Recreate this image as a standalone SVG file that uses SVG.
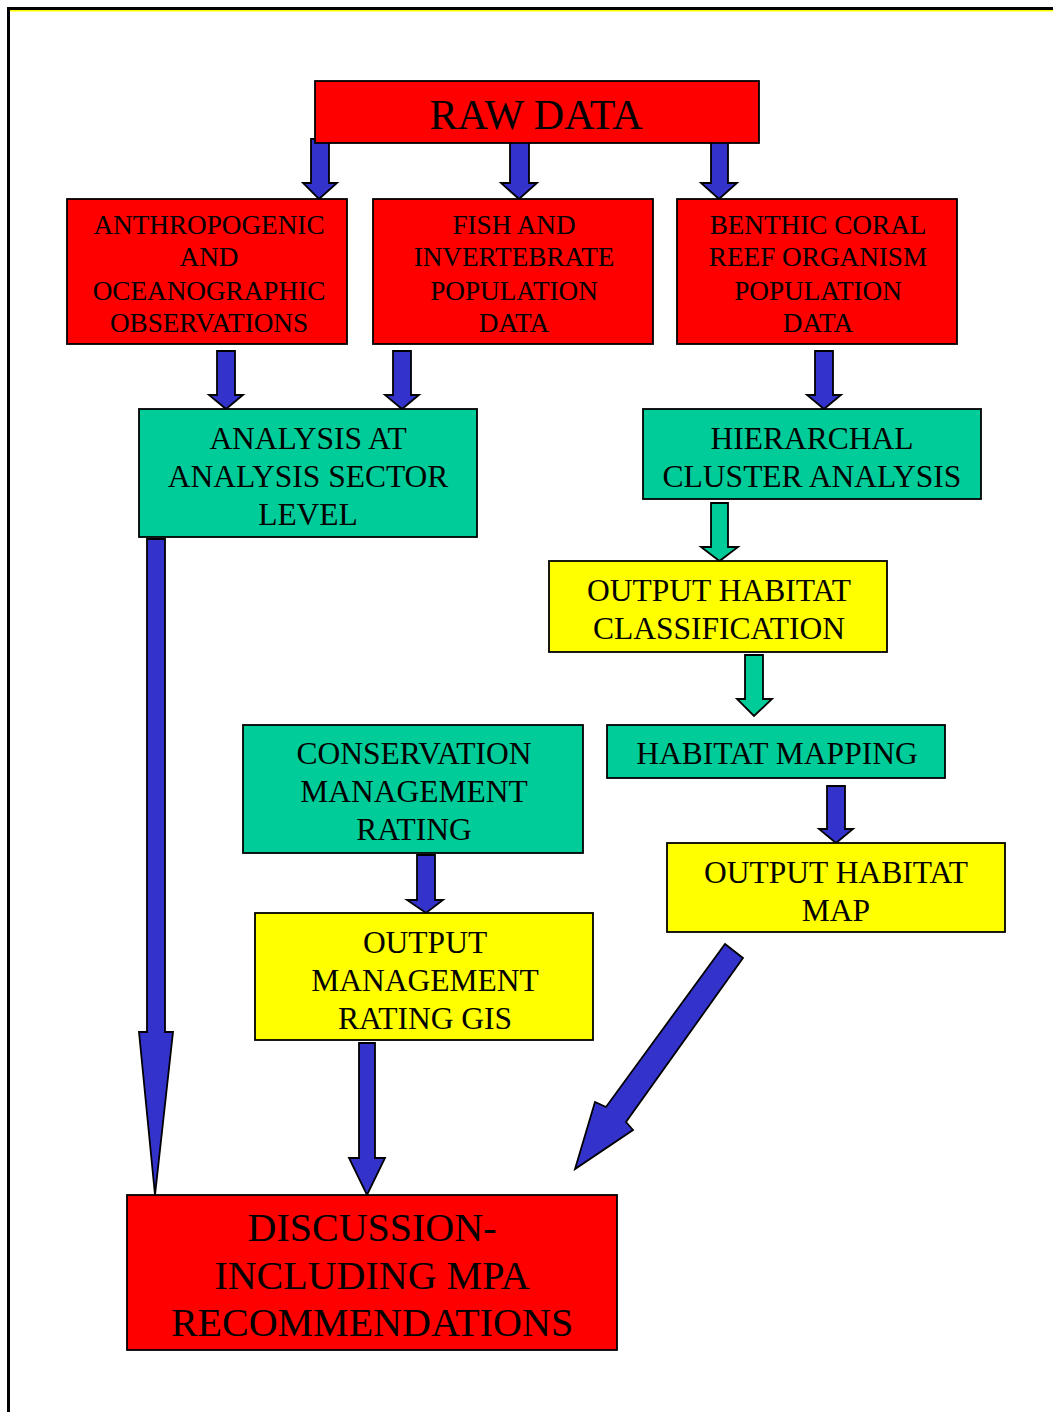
<svg xmlns="http://www.w3.org/2000/svg" width="1053" height="1412" viewBox="0 0 1053 1412">
<style>
.box{stroke:#000;stroke-width:1.8}
.red{fill:#FF0000}
.grn{fill:#00CC99}
.yel{fill:#FFFF00}
.arr{fill:#3333CC;stroke:#000;stroke-width:1.8;stroke-linejoin:miter}
.garr{fill:#00CC99;stroke:#000;stroke-width:1.8}
text{font-family:"Liberation Serif","Times New Roman",serif;text-anchor:middle;fill:#000}
.t27{font-size:27.2px}
.t31{font-size:31.5px}
.t39{font-size:40px}
.t42{font-size:42px}
</style>
<rect width="1053" height="1412" fill="#fff"/>
<g id="frame">
<rect x="7" y="7" width="1046" height="3" fill="#000"/>
<rect x="10" y="10" width="1043" height="1.5" fill="#FFFF00"/>
<rect x="7" y="7" width="3" height="1405" fill="#000"/>
</g>
<g id="connectors">
<path class="arr" d="M311,139 H329 V183 H337 L319,199 L303,183 H311 Z"/>
<path class="arr" d="M510,139 H529 V183 H537 L519,199 L501,183 H510 Z"/>
<path class="arr" d="M711,139 H728 V183 H737 L719,199 L701,183 H711 Z"/>
<path class="arr" d="M217,351 H235 V395 H243 L226,409 L209,395 H217 Z"/>
<path class="arr" d="M393,351 H411 V395 H419 L402,409 L385,395 H393 Z"/>
<path class="arr" d="M815,351 H833 V395 H841 L824,409 L807,395 H815 Z"/>
<path class="garr" d="M711,503 H728 V547 H738 L719.5,561 L701,547 H711 Z"/>
<path class="garr" d="M745,655 H763 V699 H772 L754,716 L737,699 H745 Z"/>
<path class="arr" d="M827,786 H845 V829 H853 L836,843 L819,829 H827 Z"/>
<path class="arr" d="M417,855 H435 V900 H443 L426,913 L407,900 H417 Z"/>
<path class="arr" d="M147,539 H165 V1032 H173 L155,1195 L139,1032 H147 Z"/>
<path class="arr" d="M359,1043 H375 V1158 H385 L367,1195 L349,1158 H359 Z"/>
<path class="arr" d="M725,944 L743,958 L626,1122 L633,1130 L575,1169 L595,1102 L606,1107 Z"/>
</g>
<g id="raw-data">
<rect class="box red" x="315" y="81" width="444" height="62"/>
<text class="t42" x="536" y="129">RAW DATA</text>
</g>
<g id="anthropogenic">
<rect class="box red" x="67" y="199" width="280" height="145"/>
<text class="t27" x="209"><tspan x="209" y="234">ANTHROPOGENIC</tspan><tspan x="209" y="266">AND</tspan><tspan x="209" y="300">OCEANOGRAPHIC</tspan><tspan x="209" y="332">OBSERVATIONS</tspan></text>
</g>
<g id="fish">
<rect class="box red" x="373" y="199" width="280" height="145"/>
<text class="t27" x="514"><tspan x="514" y="234">FISH AND</tspan><tspan x="514" y="266">INVERTEBRATE</tspan><tspan x="514" y="300">POPULATION</tspan><tspan x="514" y="332">DATA</tspan></text>
</g>
<g id="benthic">
<rect class="box red" x="677" y="199" width="280" height="145"/>
<text class="t27" x="818"><tspan x="818" y="234">BENTHIC CORAL</tspan><tspan x="818" y="266">REEF ORGANISM</tspan><tspan x="818" y="300">POPULATION</tspan><tspan x="818" y="332">DATA</tspan></text>
</g>
<g id="analysis">
<rect class="box grn" x="139" y="409" width="338" height="128"/>
<text class="t31" x="308"><tspan x="308" y="449">ANALYSIS AT</tspan><tspan x="308" y="487">ANALYSIS SECTOR</tspan><tspan x="308" y="525">LEVEL</tspan></text>
</g>
<g id="hierarchal">
<rect class="box grn" x="643" y="409" width="338" height="90"/>
<text class="t31" x="812"><tspan x="812" y="449">HIERARCHAL</tspan><tspan x="812" y="487">CLUSTER ANALYSIS</tspan></text>
</g>
<g id="output-habitat-classification">
<rect class="box yel" x="549" y="561" width="338" height="91"/>
<text class="t31" x="719"><tspan x="719" y="601">OUTPUT HABITAT</tspan><tspan x="719" y="639">CLASSIFICATION</tspan></text>
</g>
<g id="habitat-mapping">
<rect class="box grn" x="607" y="725" width="338" height="53"/>
<text class="t31" x="777" y="764">HABITAT MAPPING</text>
</g>
<g id="conservation">
<rect class="box grn" x="243" y="725" width="340" height="128"/>
<text class="t31" x="414"><tspan x="414" y="764">CONSERVATION</tspan><tspan x="414" y="802">MANAGEMENT</tspan><tspan x="414" y="840">RATING</tspan></text>
</g>
<g id="output-habitat-map">
<rect class="box yel" x="667" y="843" width="338" height="89"/>
<text class="t31" x="836"><tspan x="836" y="883">OUTPUT HABITAT</tspan><tspan x="836" y="921">MAP</tspan></text>
</g>
<g id="output-management">
<rect class="box yel" x="255" y="913" width="338" height="127"/>
<text class="t31" x="425"><tspan x="425" y="953">OUTPUT</tspan><tspan x="425" y="991">MANAGEMENT</tspan><tspan x="425" y="1029">RATING GIS</tspan></text>
</g>
<g id="discussion">
<rect class="box red" x="127" y="1195" width="490" height="155"/>
<text class="t39" x="372"><tspan x="372" y="1241">DISCUSSION-</tspan><tspan x="372" y="1289">INCLUDING MPA</tspan><tspan x="372" y="1336">RECOMMENDATIONS</tspan></text>
</g>
</svg>
